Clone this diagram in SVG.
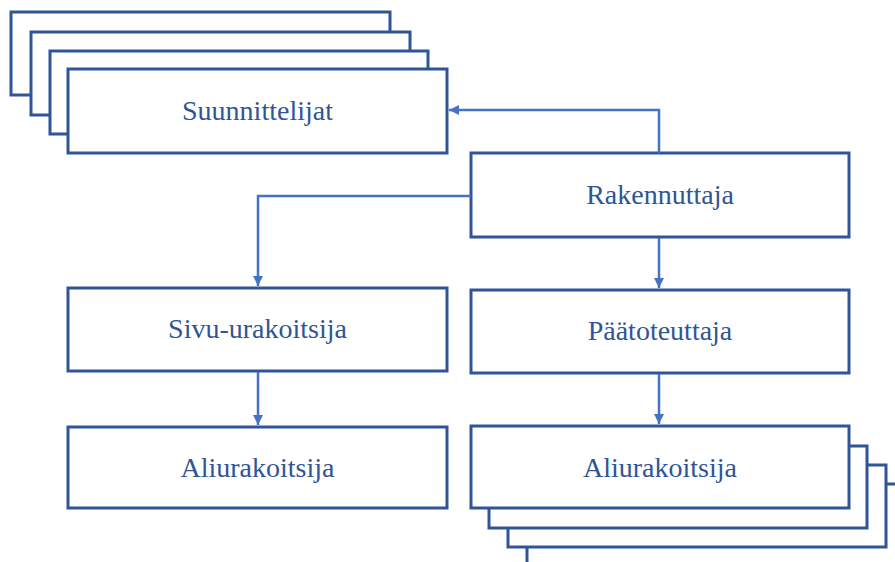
<svg xmlns="http://www.w3.org/2000/svg" width="895" height="562" viewBox="0 0 895 562">
<style>
.box{fill:#ffffff;stroke:#2F5597;stroke-width:3}
.lbl{font-family:"Liberation Serif","Times New Roman",serif;font-size:28px;fill:#2F5597;text-anchor:middle}
.con{fill:none;stroke:#4472C4;stroke-width:2.5}
</style>
<defs>
<marker id="ah" viewBox="0 0 10 10" refX="10" refY="5" markerWidth="4" markerHeight="4" orient="auto" markerUnits="strokeWidth">
<path d="M0,0 L10,5 L0,10 Z" fill="#4472C4"/>
</marker>
</defs>
<rect width="895" height="562" fill="#ffffff"/>
<g id="suunnittelijat">
<rect class="box" x="11" y="12" width="379" height="83"/>
<rect class="box" x="31" y="32" width="379" height="83"/>
<rect class="box" x="50" y="51" width="378" height="83"/>
<rect class="box" x="68" y="69" width="379" height="84"/>
<text class="lbl" x="257.5" y="120">Suunnittelijat</text>
</g>
<g id="rakennuttaja">
<rect class="box" x="471" y="153" width="378" height="84"/>
<text class="lbl" x="660" y="204">Rakennuttaja</text>
</g>
<g id="sivu-urakoitsija">
<rect class="box" x="68" y="288" width="379" height="83"/>
<text class="lbl" x="257.5" y="338">Sivu-urakoitsija</text>
</g>
<g id="paatoteuttaja">
<rect class="box" x="471" y="290" width="378" height="83"/>
<text class="lbl" x="660" y="340">Päätoteuttaja</text>
</g>
<g id="aliurakoitsija-left">
<rect class="box" x="68" y="427" width="379" height="81"/>
<text class="lbl" x="257.5" y="477">Aliurakoitsija</text>
</g>
<g id="aliurakoitsija-right">
<rect class="box" x="527" y="484" width="378" height="84"/>
<rect class="box" x="508" y="465" width="378" height="82"/>
<rect class="box" x="489" y="446" width="378" height="82"/>
<rect class="box" x="471" y="426" width="378" height="82"/>
<text class="lbl" x="660" y="477">Aliurakoitsija</text>
</g>
<g id="connectors">
<path class="con" d="M659,153 V110 H449" marker-end="url(#ah)"/>
<path class="con" d="M471,196 H258 V286" marker-end="url(#ah)"/>
<path class="con" d="M258,372 V425" marker-end="url(#ah)"/>
<path class="con" d="M659,238 V288" marker-end="url(#ah)"/>
<path class="con" d="M659,374 V424" marker-end="url(#ah)"/>
</g>
</svg>
